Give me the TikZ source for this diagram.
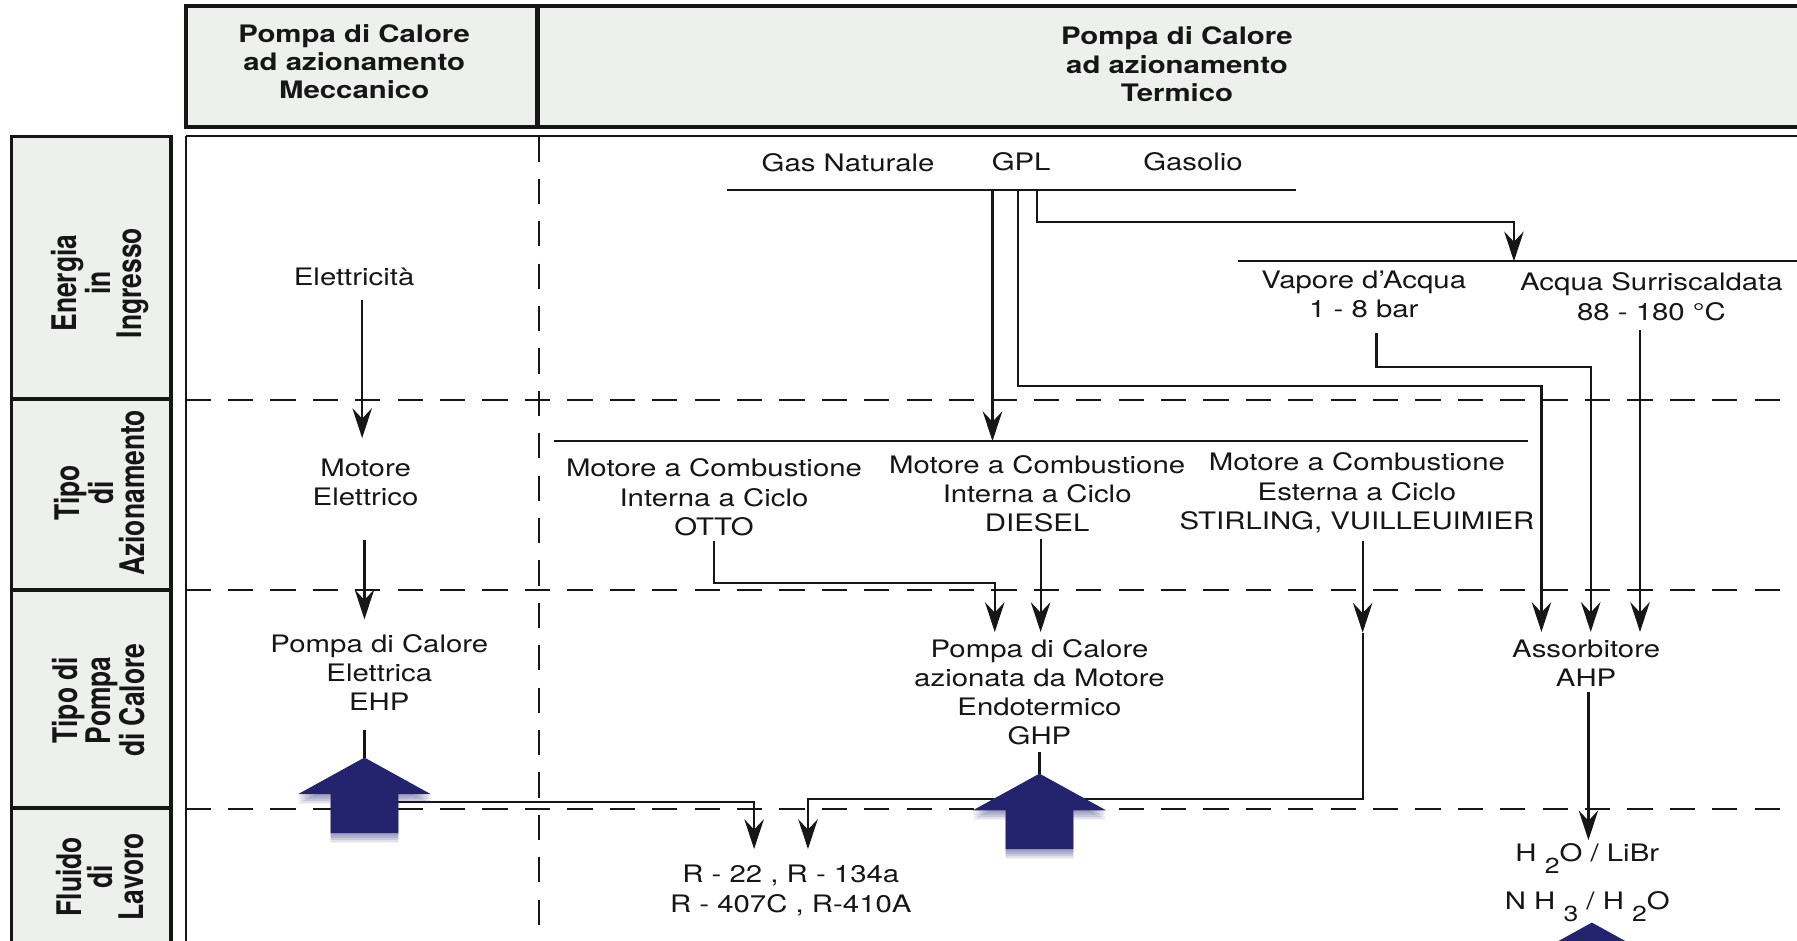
\documentclass[tikz,border=0pt]{standalone}
\usepackage{fontspec}
\setmainfont{TeX Gyre Heros}[FakeStretch=1.22]
\newfontfamily\rotfont{TeX Gyre Heros}[FakeStretch=0.78]
\usetikzlibrary{arrows.meta,calc}
\definecolor{navy}{RGB}{36,36,110}
\definecolor{boxfill}{RGB}{237,240,236}
\definecolor{ink}{RGB}{22,22,22}
\newcommand{\sbs}[1]{\raisebox{-10pt}{\fontsize{19}{19}\selectfont #1}}
\begin{document}
\begin{tikzpicture}[x=1pt,y=-1pt,
  txt/.style={align=center,inner sep=0pt,text=ink,font=\fontsize{21}{25.5}\selectfont},
  hdr/.style={align=center,inner sep=0pt,text=ink,font=\bfseries\fontsize{21}{24.5}\selectfont},
  lbl/.style={align=center,inner sep=0pt,rotate=90,text=ink,font=\rotfont\bfseries\fontsize{29.6}{27}\selectfont},
  conn/.style={line width=1.9pt,draw=ink},
  arr/.style={conn,-{Stealth[length=26pt,width=17pt,inset=9pt]}},
  gridline/.style={line width=1.9pt,draw=ink,dash pattern=on 22pt off 15pt},
  frame/.style={line width=3.2pt,draw=ink,fill=boxfill},
  bigup/.pic={
    \foreach \d in {2,4,6,8}{
      \fill[navy,opacity=0.13] (0,\d) -- (58,32+\d) -- (29.5,32+\d) -- (29.5,66+\d)
        -- (-29.5,66+\d) -- (-29.5,32+\d) -- (-58,32+\d) -- cycle;}
    \fill[navy] (0,0) -- (58,32) -- (29.5,32) -- (29.5,66) -- (-29.5,66)
      -- (-29.5,32) -- (-58,32) -- cycle;
  }
]
\useasboundingbox (0,0) rectangle (1568,821);
\clip (0,0) rectangle (1568,821);
\fill[white] (0,0) rectangle (1568,821);

% header
\draw[frame,line width=3.5pt] (162,5) rectangle (1590,111);
\draw[line width=3.5pt,draw=ink] (469,5) -- (469,111);
\node[hdr] (hdrL) at (309,54) {Pompa di Calore\\ad azionamento\\Meccanico};
\node[hdr] (hdrR) at (1027,56) {Pompa di Calore\\ad azionamento\\Termico};

% main frame
\draw[conn] (162,119) -- (1590,119);
\draw[conn] (162,119) -- (162,830);

% row label boxes
\draw[frame] (10,119) rectangle (149,348);
\draw[frame] (10,348) rectangle (149,515);
\draw[frame] (10,515) rectangle (149,705);
\draw[frame] (10,705) rectangle (149,840);
\node[lbl] (l1) at (87,247) {Energia\\in\\Ingresso};
\node[lbl] (l2) at (87,430) {Tipo\\di\\Azionamento};
\node[lbl] (l3) at (86,611) {Tipo di\\Pompa\\di Calore};
\node[lbl] (l4) at (87,765) {Fluido\\di\\Lavoro};

% dashed grid
\draw[gridline] (162,349) -- (1590,349);
\draw[gridline] (162,515) -- (1590,515);
\draw[gridline] (162,706) -- (1590,706);
\draw[gridline] (470,119) -- (470,830);

% texts
\node[txt] (elet) at (309,242) {Elettricità};
\node[txt] (motEl) at (319,421) {Motore\\Elettrico};
\node[txt] (ehp) at (331,587) {Pompa di Calore\\Elettrica\\EHP};
\node[txt] (gasN) at (740,142) {Gas Naturale};
\node[txt] (gpl) at (891,141) {GPL};
\node[txt] (gasol) at (1041,141) {Gasolio};
\node[txt] (vap) at (1190,257) {Vapore d'Acqua\\1 - 8 bar};
\node[txt] (acq) at (1441,259) {Acqua Surriscaldata\\88 - 180 °C};
\node[txt] (otto) at (623,434) {Motore a Combustione\\Interna a Ciclo\\OTTO};
\node[txt] (diesel) at (905,431) {Motore a Combustione\\Interna a Ciclo\\DIESEL};
\node[txt] (stirl) at (1184,430) {Motore a Combustione\\Esterna a Ciclo\\STIRLING, VUILLEUIMIER};
\node[txt] (ghp) at (907,604) {Pompa di Calore\\azionata da Motore\\Endotermico\\GHP};
\node[txt] (ahp) at (1384,579) {Assorbitore\\AHP};
\node[txt] (refr) at (690,777) {R - 22 , R - 134a\\R - 407C , R-410A};
\node[txt,anchor=base] (fl1) at (1385,752) {H \sbs{2}O / LiBr};
\node[txt,anchor=base] (fl2) at (1385,794) {N H \sbs{3} / H \sbs{2}O};

% bars
\coordinate (fuelL) at (634,166);
\coordinate (fuelR) at (1131,166);
\coordinate (vapBarL) at (1080,228);
\coordinate (vapBarR) at (1590,228);
\coordinate (motBarL) at (483,385);
\coordinate (motBarR) at (1333,385);
\draw[conn] (fuelL) -- (fuelR);
\draw[conn] (vapBarL) -- (vapBarR);
\draw[conn] (motBarL) -- (motBarR);

% blue arrow tips
\coordinate (ehpArr) at (318,661);
\coordinate (ghpArr) at (907,675);
\coordinate (botArr) at (1389,805);
\coordinate (stirlMid) at (1189,552);

% connectors
\draw[arr,shorten <=12pt,shorten >=18pt] (elet.south -| 316,0) -- (motEl.north -| 316,0);
\draw[arr,shorten <=29pt,shorten >=13pt] (motEl.south -| 318,0) -- (ehp.north -| 318,0);
\draw[conn,shorten <=16pt] (ehp.south -| ehpArr) -- (ehpArr);
\draw[arr,shorten >=14pt] (ehpArr |- 0,700) -| (refr.north -| 658,0);
\draw[arr] (fuelL -| 866,0) -- (motBarL -| 866,0);
\draw[arr,shorten >=7pt] (fuelL -| 888,0) |- (1345,337) -- (ahp.north -| 1345,0);
\draw[arr] (fuelL -| 905,0) |- (1321,194) -- (vapBarL -| 1321,0);
\draw[arr,shorten <=13pt,shorten >=7pt] (vap.south -| 1201,0) |- (1388,320) -- (ahp.north -| 1388,0);
\draw[arr,shorten <=8pt,shorten >=7pt] (acq.south -| 1431,0) -- (ahp.north -| 1431,0);
\draw[arr,shorten <=4pt,shorten >=6pt] (otto.south -| 623,0) |- (868,509) -- (ghp.north -| 868,0);
\draw[arr,shorten <=6pt,shorten >=6pt] (diesel.south -| 908,0) -- (ghp.north -| 908,0);
\draw[arr,shorten <=7pt] (stirl.south -| stirlMid) -- (stirlMid);
\draw[arr,shorten >=14pt] (stirlMid) |- (705,697) -- (refr.north -| 705,0);
\draw[conn,shorten <=6pt] (ghp.south -| ghpArr) -- (ghpArr);
\draw[arr,shorten <=4pt,shorten >=3pt] (ahp.south -| 1386,0) -- (fl1.north -| 1386,0);

% big blue arrows
\pic at (ehpArr) {bigup};
\pic at (ghpArr) {bigup};
\pic at (botArr) {bigup};
\end{tikzpicture}
\end{document}
